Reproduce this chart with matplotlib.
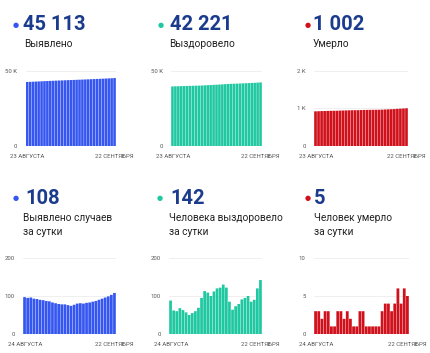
import matplotlib
matplotlib.use("Agg")
import matplotlib.pyplot as plt

plt.rcParams['font.family'] = ['Roboto', 'DejaVu Sans']

# ---- data ----
cum_cases = [42495, 42592, 42687, 42783, 42876, 42968, 43058, 43147, 43234, 43320,
             43403, 43484, 43563, 43641, 43719, 43795, 43869, 43946, 44026, 44107,
             44187, 44269, 44352, 44437, 44524, 44614, 44707, 44803, 44902, 45005, 45113]
cum_recovered = [39542, 39630, 39692, 39752, 39820, 39883, 39940, 39990, 40045, 40105,
                 40174, 40269, 40382, 40491, 40591, 40703, 40823, 40945, 41075, 41197,
                 41282, 41346, 41419, 41498, 41589, 41684, 41784, 41869, 41959, 42079, 42221]
cum_deaths = [921, 924, 927, 929, 932, 935, 936, 937, 940, 943, 945, 948, 950, 951, 952,
              955, 958, 959, 960, 961, 962, 963, 966, 970, 974, 977, 981, 987, 991, 997, 1002]
daily_cases = [97, 95, 96, 93, 92, 90, 89, 87, 86, 83, 81, 79, 78, 78, 76, 74, 77, 80, 81, 80,
               82, 83, 85, 87, 90, 93, 96, 99, 103, 108]
daily_recovered = [88, 62, 60, 68, 63, 57, 50, 55, 60, 69, 95, 113, 109, 100, 112, 120, 122, 130,
                   122, 85, 64, 73, 79, 91, 95, 100, 85, 90, 120, 142]
daily_deaths = [3, 3, 2, 3, 3, 1, 1, 3, 3, 2, 3, 2, 1, 1, 3, 3, 1, 1, 1, 1, 1, 3, 4, 4, 3, 4,
                6, 4, 6, 5]

headline = ["45 113", "42 221", "1 002", "108", "142", "5"]
labels = [["Выявлено"], ["Выздоровело"], ["Умерло"],
          ["Выявлено случаев", "за сутки"], ["Человека выздоровело", "за сутки"],
          ["Человек умерло", "за сутки"]]
start_labels = ["23 АВГУСТА", "23 АВГУСТА", "23 АВГУСТА", "24 АВГУСТА", "24 АВГУСТА", "24 АВГУСТА"]
end_label = "22 СЕНТЯБРЯ"
yticks = [[0, 50000], [0, 50000], [0, 1000, 2000], [0, 100, 200], [0, 100, 200], [0, 5, 10]]
yticklabels = [["0", "50 K"], ["0", "50 K"], ["0", "1 K", "2 K"],
               ["0", "100", "200"], ["0", "100", "200"], ["0", "5", "10"]]

BLUE = "#3556f0"
GREEN = "#1fc8a0"
RED = "#d0111c"
NAVY = "#1b3b8c"

W, H = 430, 353
fig = plt.figure(figsize=(W / 100, H / 100), dpi=100)

def fx(x):
    return x / W

def fy(y):
    return 1 - y / H

panels = [
    # series, color, axes box (l, t, r, b), dot x, num x, label x, dot y, num baseline, label baseline
    (cum_cases, BLUE, (25.5, 70.7, 116, 146), 16, 23, 24, 25, 30.5, 47),
    (cum_recovered, GREEN, (171, 70.7, 262, 146), 161, 170, 169, 25, 30.5, 47),
    (cum_deaths, RED, (314, 70.7, 408, 146), 307.5, 313, 312.5, 25, 30.5, 47),
    (daily_cases, BLUE, (23, 258, 116, 334), 15.7, 25, 23, 199, 204, 220.7),
    (daily_recovered, GREEN, (169, 258, 262, 334), 159.5, 170, 169, 199, 204, 220.7),
    (daily_deaths, RED, (314, 258, 409, 334), 307.5, 314, 314, 199, 204, 220.7),
]

for i, (vals, col, box, dx, nx, lx, dy, ny, ly) in enumerate(panels):
    l, t, r, b = box
    ax = fig.add_axes([fx(l), fy(b), fx(r) - fx(l), (b - t) / H])
    n = len(vals)
    bars = ax.bar(range(n), vals, width=0.88, color=col, linewidth=0, zorder=2)
    for p in bars:
        p.set_snap(False)
    ax.set_xlim(-0.5, n - 0.5)
    ax.set_ylim(yticks[i][0], yticks[i][-1])
    ax.set_yticks(yticks[i])
    ax.set_yticklabels(yticklabels[i])
    ax.set_xticks([])
    ax.grid(axis='y', color="#ececec", linewidth=0.6, zorder=0)
    ax.tick_params(axis='y', length=0, pad=6, labelsize=4.3, labelcolor="#555555")
    for s in ax.spines.values():
        s.set_visible(False)
    ax.set_facecolor("none")

    # date labels
    fig.text(fx(l - 15), fy(b + 10), start_labels[i], fontsize=4.3, color="#555555",
             ha='left', va='center')
    fig.text(fx(r + 18), fy(b + 10), end_label, fontsize=4.3, color="#555555",
             ha='right', va='center')

    # headline
    fig.text(fx(dx), fy(dy), "\u25CF", fontsize=5, color=col, ha='center', va='center')
    fig.text(fx(nx), fy(ny), headline[i], fontsize=14.5, fontweight='bold', color=NAVY,
             ha='left', va='baseline')
    for k, line in enumerate(labels[i]):
        fig.text(fx(lx), fy(ly + k * 14.5), line, fontsize=7.3, color="#222222",
                 ha='left', va='baseline')

fig.savefig("out.png", dpi=100)
